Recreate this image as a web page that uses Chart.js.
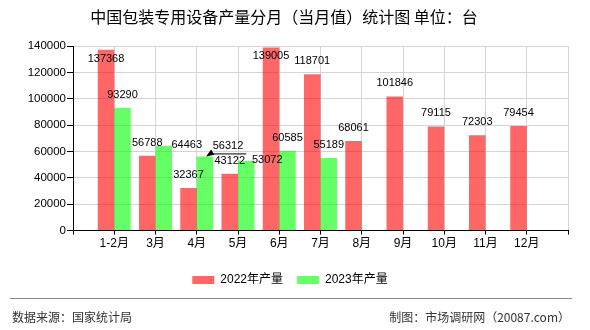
<!DOCTYPE html>
<html>
<head>
<meta charset="utf-8">
<script src="https://cdn.jsdelivr.net/npm/chart.js@4.4.0/dist/chart.umd.min.js"></script>
<style>
  html, body { margin: 0; padding: 0; background: #fff; }
  #marco { position: relative; width: 590px; height: 330px; }
  #linea-pie { position: absolute; left: 10px; top: 298px; width: 562px; height: 0; border-top: 1px solid #888; }
  .pie { position: absolute; top: 309px; font: 12px "Noto Sans CJK SC", sans-serif; color: #333; line-height: 16px; white-space: nowrap; }
</style>
</head>
<body>
<div id="marco">
  <canvas id="grafico" width="590" height="330"></canvas>
  <div id="linea-pie"></div>
  <div class="pie" style="left:12px">数据来源：国家统计局</div>
  <div class="pie" style="right:20px">制图：市场调研网（20087.com）</div>
</div>
<script>
// Datos
const meses = ['1-2月', '3月', '4月', '5月', '6月', '7月', '8月', '9月', '10月', '11月', '12月'];
const produccion2022 = [137368, 56788, 32367, 43122, 139005, 118701, 68061, 101846, 79115, 72303, 79454];
const produccion2023 = [93290, 64463, 56312, 53072, 60585, 55189];
const ticksY = [0, 20000, 40000, 60000, 80000, 100000, 120000, 140000];

// Desplazamiento de etiquetas [dx, dy, flecha] (solo estilo, no datos)
const despl2022 = [[0, 22], [0, 0], [0, 0], [0, 0], [0, 21]];
const despl2023 = [[0, 0], [23, 12], [23, 3, true], [21, 12], [0, 0], [0, 0]];

const colores = {
  rojo: 'rgba(255,0,0,0.6)',
  verde: 'rgba(0,255,0,0.6)',
  rejilla: '#d4d4d4'
};

// Etiquetas con el eje vacío al inicio y al final
const etiquetasX = [''].concat(meses, ['']);
const rellenar = arr => [null].concat(arr, new Array(etiquetasX.length - 1 - arr.length).fill(null));

Chart.defaults.font.family = '"Liberation Sans", "Noto Sans CJK SC", sans-serif';
Chart.defaults.color = '#000';

const valoresBarras = {
  id: 'valoresBarras',
  afterDatasetsDraw(chart) {
    const ctx = chart.ctx;
    const despl = [despl2022, despl2023];
    ctx.save();
    ctx.font = '11px "Liberation Sans", sans-serif';
    ctx.fillStyle = '#000';
    ctx.strokeStyle = '#000';
    ctx.textAlign = 'center';
    ctx.textBaseline = 'middle';
    chart.data.datasets.forEach((ds, i) => {
      chart.getDatasetMeta(i).data.forEach((barra, j) => {
        const v = ds.data[j];
        if (v == null) return;
        const d = despl[i][j - 1] || [0, 0];
        const x = barra.x + d[0];
        const y = barra.y - 13 + d[1];
        ctx.fillText(String(v), x, y);
        if (d[2]) {
          const w = ctx.measureText(String(v)).width;
          const yl = y + 7;
          const x0 = x - w / 2 - 2;
          ctx.lineWidth = 1;
          ctx.beginPath();
          ctx.moveTo(x0, yl + 0.5);
          ctx.lineTo(x + w / 2 + 3, yl + 0.5);
          ctx.stroke();
          // punta de flecha hacia la barra
          const tx = barra.x + 1, ty = barra.y;
          const ang = Math.atan2(ty - yl, tx - x0);
          const lg = 8;
          ctx.beginPath();
          ctx.moveTo(tx, ty);
          ctx.lineTo(tx - lg * Math.cos(ang) + 3 * Math.sin(ang), ty - lg * Math.sin(ang) - 3 * Math.cos(ang));
          ctx.lineTo(tx - lg * Math.cos(ang) - 3 * Math.sin(ang), ty - lg * Math.sin(ang) + 3 * Math.cos(ang));
          ctx.closePath();
          ctx.fill();
        }
      });
    });
    ctx.restore();
  }
};

// Mueve un poco la leyenda a la derecha, como en el original
const moverLeyenda = {
  id: 'moverLeyenda',
  afterLayout(chart) {
    if (chart.legend) {
      chart.legend.left += 6;
      chart.legend.right += 6;
    }
  }
};

new Chart(document.getElementById('grafico').getContext('2d'), {
  type: 'bar',
  data: {
    labels: etiquetasX,
    datasets: [{
      label: '2022年产量',
      data: rellenar(produccion2022),
      backgroundColor: colores.rojo,
      borderWidth: 0,
      categoryPercentage: 0.8,
      barPercentage: 1
    }, {
      label: '2023年产量',
      data: rellenar(produccion2023),
      backgroundColor: colores.verde,
      borderWidth: 0,
      categoryPercentage: 0.8,
      barPercentage: 1
    }]
  },
  options: {
    responsive: false,
    animation: false,
    layout: { padding: { left: 0, right: 22, top: 0, bottom: 34 } },
    plugins: {
      title: {
        display: true,
        text: '中国包装专用设备产量分月（当月值）统计图 单位：台',
        color: '#000',
        font: { size: 16, weight: 'normal', family: '"Noto Sans CJK SC", sans-serif' },
        padding: { top: 7, bottom: 20 }
      },
      legend: {
        position: 'bottom',
        title: { display: true, text: '', font: { size: 6, lineHeight: 1 }, padding: { top: 1, bottom: 0 } },
        labels: {
          boxWidth: 22,
          boxHeight: 8,
          padding: 14,
          color: '#000',
          font: { size: 12 }
        }
      },
      tooltip: { enabled: false }
    },
    scales: {
      x: {
        offset: false,
        grid: { offset: false, color: colores.rejilla, tickColor: '#000', tickLength: 4 },
        border: { color: '#000' },
        ticks: { color: '#000', padding: 2, font: { size: 12 }, autoSkip: false, maxRotation: 0 }
      },
      y: {
        min: 0,
        max: 140000,
        grid: { color: colores.rejilla, tickColor: '#000', tickLength: 6 },
        border: { color: '#000' },
        ticks: { color: '#000', padding: 1, font: { size: 11.5 }, callback: v => String(v) },
        afterBuildTicks: eje => { eje.ticks = ticksY.map(v => ({ value: v })); },
        afterFit: eje => { eje.width = 73; }
      }
    }
  },
  plugins: [valoresBarras, moverLeyenda]
});
</script>
</body>
</html>
